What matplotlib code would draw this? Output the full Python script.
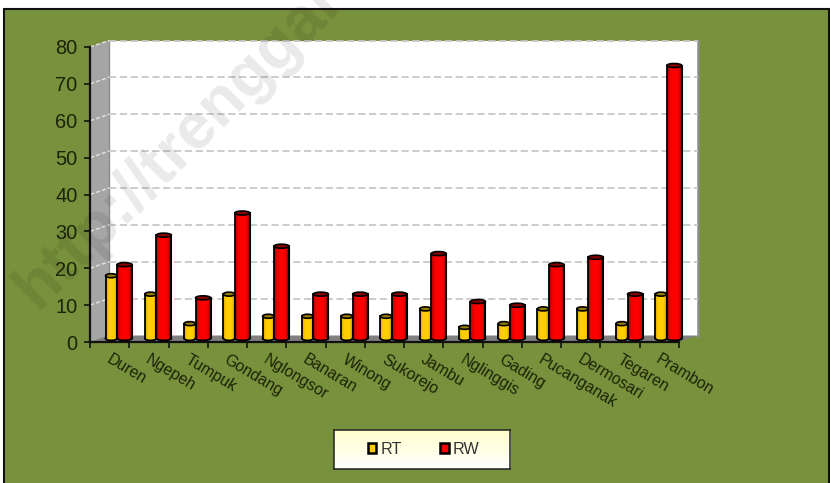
import numpy as np
import matplotlib
matplotlib.use('Agg')
import matplotlib.pyplot as plt
from matplotlib.colors import LinearSegmentedColormap
from matplotlib.patches import Polygon, Ellipse, Patch, Rectangle

categories = ['Duren', 'Ngepeh', 'Tumpuk', 'Gondang', 'Nglongsor', 'Banaran', 'Winong',
              'Sukorejo', 'Jambu', 'Nglinggis', 'Gading', 'Pucanganak', 'Dermosari',
              'Tegaren', 'Prambon']
rt = [17, 12, 4, 12, 6, 6, 6, 6, 8, 3, 4, 8, 8, 4, 12]
rw = [20, 28, 11, 34, 25, 12, 12, 12, 23, 10, 9, 20, 22, 12, 74]
yticks = [0, 10, 20, 30, 40, 50, 60, 70, 80]

W, H = 830, 483
plt.rcParams['font.family'] = ['Liberation Sans', 'DejaVu Sans']
BG = '#78913C'
INK = '#1c2408'
fig = plt.figure(figsize=(W / 100, H / 100), dpi=100, facecolor='white')


def px_axes(x0, y0, x1, y1, **kw):
    return fig.add_axes([x0 / W, 1 - y1 / H, (x1 - x0) / W, (y1 - y0) / H], **kw)


# background panel with black frame
fig.add_artist(Rectangle((4.2 / W, -0.01), 825 / W, 1 - 8.5 / H + 0.01, transform=fig.transFigure,
                         facecolor=BG, edgecolor='#111111', lw=1.5, zorder=-5))

LEFT, RIGHT, BASE, TOP = 90, 679, 342, 47
ax = px_axes(LEFT, TOP, RIGHT, BASE)
ax.set_facecolor('none')
ax.set_xlim(0, 15)
ax.set_ylim(0, 80)
pxx = (RIGHT - LEFT) / 15
pxy = (BASE - TOP) / 80
dx, dy = 19 / pxx, 6.5 / pxy

# walls and floor
ax.add_patch(Polygon([(dx, dy), (15 + dx, dy), (15 + dx, 80 + dy), (dx, 80 + dy)], fc='white', ec='none', zorder=1, clip_on=False))
ax.add_patch(Polygon([(0, 0), (dx, dy), (dx, 80 + dy), (0, 80)], fc='#A5A5A5', ec='none', zorder=1, clip_on=False))
ax.add_patch(Polygon([(0, 0), (15, 0), (15 + dx, dy), (dx, dy)], fc='#808080', ec='none', zorder=1, clip_on=False))
ax.plot([15 + dx, 15 + dx], [dy, 80 + dy], color='#8C8C8C', lw=1.8, zorder=2, clip_on=False)
ax.plot([dx, dx], [dy, 80 + dy], color='#8C8C8C', lw=1.0, zorder=2, clip_on=False)

for v in yticks[1:]:
    ax.plot([dx, 15 + dx], [v + dy, v + dy], color='#C8C8C8', lw=1.3, dashes=(4.0, 2.0), zorder=2, clip_on=False)
    ax.plot([0, dx], [v, v + dy], color='#E4E4E4', lw=1.0, dashes=(3, 1.5), zorder=2, clip_on=False)

# cylinders
red = LinearSegmentedColormap.from_list('r', ['#a00000', '#f00000', '#ff0000', '#ff0000', '#f00000', '#800000'])
yel = LinearSegmentedColormap.from_list('y', ['#d8a800', '#ffcc00', '#ffd000', '#ffcc00', '#c09800'])
grad = np.linspace(0, 1, 64)[None, :]
ox, oy = 7.4 / pxx, 3.6 / pxy
eh = 4.0 / pxy


def cylinder(x0, x1, v, cmap, top, z):
    ax.bar((x0 + x1) / 2 + ox, v, width=x1 - x0, bottom=oy, color='none', edgecolor='none', zorder=z)
    h = v
    ax.add_patch(Ellipse(((x0 + x1) / 2 + ox, oy), x1 - x0, eh, fc=cmap(0.5), ec='black', lw=1.3, zorder=z, clip_on=False))
    ax.imshow(grad, cmap=cmap, extent=[x0 + ox, x1 + ox, oy, oy + h], aspect='auto', zorder=z + 0.1, clip_on=False)
    ax.plot([x0 + ox, x0 + ox], [oy, oy + h], color='black', lw=1.3, zorder=z + 0.2, clip_on=False)
    ax.plot([x1 + ox, x1 + ox], [oy, oy + h], color='black', lw=1.5, zorder=z + 0.2, clip_on=False)
    ax.add_patch(Ellipse(((x0 + x1) / 2 + ox, oy + h), x1 - x0, eh, fc=top, ec='black', lw=1.2, zorder=z + 0.3, clip_on=False))


for i in range(len(categories)):
    c = i + 0.5
    cylinder(c - 11.5 / pxx, c, rt[i], yel, '#9a7a00', 4 + i)
    cylinder(c, c + 15 / pxx, rw[i], red, '#8a0000', 4.5 + i)

ax.set_xlim(0, 15)
ax.set_ylim(0, 80)

# axes
for s in ['top', 'right']:
    ax.spines[s].set_visible(False)
for s in ['left', 'bottom']:
    ax.spines[s].set_linewidth(1.6)
    ax.spines[s].set_color('#111111')
    ax.spines[s].set_zorder(3)
ax.set_yticks(yticks)
ax.set_xticks(np.arange(16))
ax.set_xticklabels([])
ax.tick_params(axis='both', length=4, width=1.2, color='#111111', direction='out')
ax.tick_params(axis='y', labelsize=14.4, labelcolor=INK, pad=5)
for i, name in enumerate(categories):
    ax.annotate(name, xy=(i + 0.5, 0), xytext=(2, -10), textcoords='offset pixels', xycoords='data',
                rotation=-31, rotation_mode='anchor', ha='left', va='top', fontsize=11.4, color=INK,
                annotation_clip=False)

# legend
lax = px_axes(333.5, 429.5, 510, 469)
lax.imshow(np.linspace(0, 1, 64)[:, None], cmap=LinearSegmentedColormap.from_list('l', ['#FFFFCC', '#FFFFFF']),
           aspect='auto', extent=[0, 1, 0, 1])
lax.set_xticks([])
lax.set_yticks([])
for s in lax.spines.values():
    s.set_linewidth(1.1)
    s.set_color('#222222')
handles = [Patch(fc='#FFCC00', ec='black', lw=1.8), Patch(fc='#FF0000', ec='black', lw=1.8)]
leg = lax.legend(handles, ['RT', 'RW'], ncol=2, frameon=False, loc='center', fontsize=11.6,
                 handlelength=0.55, handleheight=0.55, handletextpad=0.25, columnspacing=2.35,
                 labelcolor='#333333', bbox_to_anchor=(0.51, 0.5))

# watermark
fig.text(37 / W, 1 - 310 / H, 'http://trenggal', rotation=45, rotation_mode='anchor', ha='left', va='baseline',
         fontsize=46, fontweight='bold', color='black', alpha=0.085, zorder=20)

fig.savefig('out.png', dpi=100)
